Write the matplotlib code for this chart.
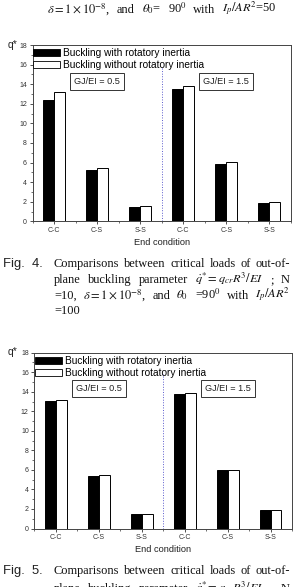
import numpy as np
import matplotlib
matplotlib.use("Agg")
import matplotlib.pyplot as plt
from matplotlib.patches import Patch
from matplotlib.ticker import MultipleLocator

plt.rcParams['font.family'] = ['Liberation Sans', 'DejaVu Sans']
plt.rcParams['mathtext.fontset'] = 'stix'

# data
conditions = ['C-C', 'C-S', 'S-S', 'C-C', 'C-S', 'S-S']
fig4_with = [12.42, 5.21, 1.46, 13.51, 5.88, 1.90]
fig4_without = [13.17, 5.44, 1.53, 13.85, 6.02, 1.93]
fig5_with = [13.08, 5.41, 1.48, 13.77, 5.96, 1.93]
fig5_without = [13.15, 5.44, 1.50, 13.84, 5.98, 1.93]
ratios = ['GJ/EI = 0.5', 'GJ/EI = 1.5']
series_labels = ['Buckling with rotatory inertia', 'Buckling without rotatory inertia']

W, H = 296, 587
fig = plt.figure(figsize=(W / 100, H / 100), dpi=100)
fig.patch.set_facecolor('white')

SERIF = ['Liberation Serif', 'DejaVu Serif']


def px(x0, top, x1, bottom):
    # pixel box -> figure fraction rect
    return [x0 / W, 1 - bottom / H, (x1 - x0) / W, (bottom - top) / H]


def bar_panel(rect, with_vals, without_vals, qy):
    ax = fig.add_axes(rect)
    x = np.arange(1, len(conditions) + 1)
    w = 0.255
    ax.bar(x - w, with_vals, w, align='edge', color='black', edgecolor='black', lw=0.7)
    ax.bar(x, without_vals, w, align='edge', color='white', edgecolor='black', lw=0.7)
    ax.set_xlim(0.5, 6.5)
    ax.set_ylim(0, 18)
    ax.set_xticks(x)
    ax.set_xticklabels(conditions)
    ax.yaxis.set_major_locator(MultipleLocator(2))
    ax.yaxis.set_minor_locator(MultipleLocator(1))
    ax.xaxis.set_minor_locator(MultipleLocator(0.5))
    ax.tick_params(which='major', direction='out', length=2.5, width=0.6,
                   labelsize=5, pad=1.5, colors='#333333')
    ax.tick_params(which='minor', direction='out', length=1.3, width=0.5, colors='#333333')
    for s in ax.spines.values():
        s.set_linewidth(0.7)
        s.set_color('#444444')
    ax.plot([3.5, 3.5], [0, 15.8], ls=':', color='#5a5acd', lw=0.7)
    ax.set_xlabel('End condition', fontsize=6.7, labelpad=3, color='#222222')
    handles = [Patch(facecolor='black', edgecolor='black', lw=0.6),
               Patch(facecolor='white', edgecolor='black', lw=0.6)]
    ax.legend(handles, series_labels, loc='upper left', bbox_to_anchor=(0.003, 0.983),
              frameon=False, fontsize=7.3, handlelength=2.65, handleheight=0.68,
              handletextpad=0.3, labelspacing=0.2, borderpad=0, borderaxespad=0)
    for xc, t in zip([2.0, 5.0], ratios):
        ax.text(xc, 14.3, t, ha='center', va='center', fontsize=6.6, color='#222222',
                bbox=dict(boxstyle='square,pad=0.45', fc='white', ec='#333333', lw=0.7))
    fig.text(8 / W, 1 - qy / H, 'q*', fontsize=7.5, va='center', ha='left', color='#222222')
    return ax


def justify(words, x0, x1, y, size, fill=True):
    r = fig.canvas.get_renderer()
    ts = [fig.text(x0 / W, 1 - y / H, wd, fontsize=size, family=SERIF,
                   va='baseline', ha='left', color='#111111') for wd in words]
    widths = [t.get_window_extent(r).width for t in ts]
    if fill and len(ts) > 1:
        gap = (x1 - x0 - sum(widths)) / (len(ts) - 1)
    else:
        gap = size * 0.3
    xc = x0
    for t, wd in zip(ts, widths):
        t.set_x(xc / W)
        xc += wd + gap


bar_panel(px(32.5, 45.1, 291, 221.3), fig4_with, fig4_without, 45)
bar_panel(px(34.3, 352.7, 292, 528.5), fig5_with, fig5_without, 352)

cap_size = 8.9

# header line (tail of previous caption)
justify([r'$\delta=1\times10^{-8}$,', 'and', r'$\theta_0$=', '90$^0$', 'with',
         r'$I_p/AR^2$=50'], 47, 277, 13, cap_size)

# Fig. 4 caption
fig.text(3 / W, 1 - 267 / H, 'Fig.  4.', fontsize=9.4, va='baseline', ha='left', color='#222222')
justify(['Comparisons', 'between', 'critical', 'loads', 'of', 'out-of-'], 54, 290, 267, cap_size)
justify(['plane', 'buckling', 'parameter', r'$\dot{q}^{*}=q_{cr}R^3/EI$', ';', 'N'],
        54, 290, 283, cap_size)
justify(['=10,', r'$\delta=1\times10^{-8}$,', 'and', r'$\theta_0$', '=90$^0$', 'with',
         r'$I_p/AR^2$'], 54, 290, 299, cap_size)
justify(['=100'], 54, 290, 314, cap_size, fill=False)

# Fig. 5 caption (cut by the bottom edge)
fig.text(3 / W, 1 - 574 / H, 'Fig.  5.', fontsize=9.4, va='baseline', ha='left', color='#222222')
justify(['Comparisons', 'between', 'critical', 'loads', 'of', 'out-of-'], 54, 290, 574, cap_size)
justify(['plane', 'buckling', 'parameter', r'$\dot{q}^{*}=q_{cr}R^3/EI$', ';', 'N'],
        54, 290, 592, cap_size)

fig.savefig('out.png', dpi=100)
